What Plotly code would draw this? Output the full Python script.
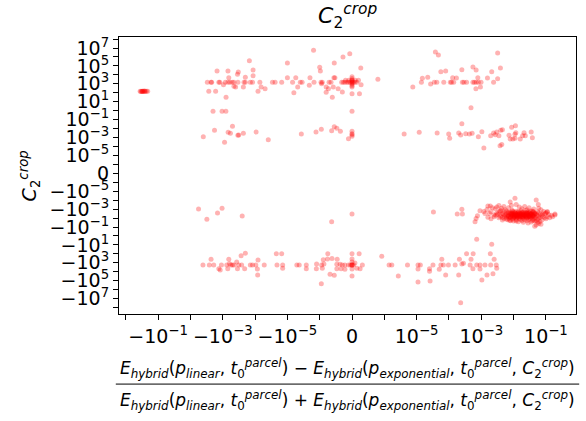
import numpy as np
import plotly.graph_objects as go

# Symmetric-log settings (linear band |v| <= LIN_THRESH spans one decade on each side)
LIN_THRESH = 1e-6


def symlog(vals):
    v = np.asarray(vals, dtype=float)
    a = np.abs(v)
    return np.where(a <= LIN_THRESH, v / LIN_THRESH,
                    np.sign(v) * (1.0 + np.log10(np.maximum(a, LIN_THRESH) / LIN_THRESH)))


# ---------------- data: relative difference (x) vs C2_crop (y) ----------------
far_left_x = [-0.36, -0.34, -0.32, -0.30, -0.29, -0.27, -0.25, -0.23, -0.21, -0.31, -0.26]
far_left_y = [150, 140, 146, 152, 143, 148, 141, 145, 144, 138, 155]

upper_x = [
    -1.5e-4, -1.5e-3, -6.9e-4, -3.3e-4, -3.5e-4, -1.15e-4, -6.5e-4, -2e-4, -1.15e-4,
    -3.0e-3, -2.3e-3, -2.2e-3, -1.32e-3, -1.23e-3, -8.3e-4, -6.9e-4, -6e-4, -5.1e-4,
    -4.5e-4, -3.4e-4, -2.2e-4, -2e-4, -1.4e-4, -1.2e-4,
    -9.5e-4, -4.5e-4, -4e-4, -2.3e-4, -2.7e-3, -1.66e-3, -8.1e-5, -7.9e-4,
    -1.55e-6, -7e-8, -2.8e-7, -1.0e-5, -5.5e-7, -1.0e-6, -9.8e-7, 2.7e-7,
    -7.1e-5, -2.9e-5, -2.4e-5, -1.5e-5, -6.9e-6, -4.0e-6, -3.5e-6, -1.5e-6, -9.6e-7,
    -9.2e-7, -7.1e-7, -6.5e-7, -3.2e-7, -2.7e-7, -2.2e-7, -1.6e-7, -1.1e-7, -6e-8,
    0.0, 4e-8, 9e-8, 1.5e-7,
    -1e-5, -5.5e-6, -2e-6, -5.6e-7, -5.3e-7, 8e-7,
    0.0, 0.0, 0.0, 0.0, 0.0, 0.0, 0.0, 0.0, 0.0, 0.0, 0.0,
    -2e-7, -1e-7, 1e-7, 2e-7,
    -6.5e-5, -4.9e-5, -4.8e-6, -6.3e-6, -2.1e-6, -9.4e-7, -8e-7, -7.3e-7, -8e-7,
    -5.8e-7, -4.3e-7, -6.1e-7, -3e-7, 2.3e-7, 2.8e-7,
    3.8e-5, 4.7e-5, 3.2e-3, 5.6e-5, 7.9e-5, 2.5e-4, 5.5e-4, 6.9e-4, 2.1e-3, 3.9e-3,
    1.5e-5, 2.2e-5, 1.3e-4, 1.7e-4, 7.8e-4, 1.55e-3, 3.2e-3,
    1.4e-5, 3.5e-5, 4.2e-5, 6.9e-5, 1.1e-4, 1.2e-4, 1.4e-4, 2.6e-4, 2.9e-4, 3.5e-4,
    5.5e-4, 6.1e-4, 7.0e-4, 8.1e-4, 9.8e-4, 2.4e-3,
    2.7e-5, 7.6e-6, 6.8e-4, 9.4e-4, 4.8e-4,
]
upper_y = [
    3.8e5, 2.7e4, 2.7e4, 2.1e4, 1.15e4, 3.5e4, 4.8e3, 5.4e3, 8e3,
    1.5e3, 1.5e3, 1.5e3, 1.5e3, 1.5e3, 1.5e3, 1.5e3, 1.5e3, 1.5e3,
    1.5e3, 1.5e3, 1.5e3, 1.5e3, 1.5e3, 1.5e3,
    790, 525, 440, 440, 145, 145, 145, 31,
    5.5e6, 2.3e6, 1.0e6, 2.1e5, 2.1e5, 6.9e4, 2.7e4, 5.8e4,
    1.5e3, 1.5e3, 1.5e3, 1.5e3, 1.5e3, 1.5e3, 1.5e3, 1.5e3, 1.5e3,
    1.5e3, 1.5e3, 1.5e3, 1.5e3, 1.5e3, 1.5e3, 1.5e3, 1.5e3, 1.5e3,
    1.5e3, 1.5e3, 1.5e3, 1.5e3,
    4.8e3, 4.8e3, 4.8e3, 4.8e3, 4.8e3, 3.2e3,
    6e3, 4e3, 2.5e3, 2.5e3, 1.8e3, 1.2e3, 900, 600, 440, 78, 0.85,
    2.5e3, 2.5e3, 2.5e3, 2.5e3,
    440, 280, 440, 100, 680, 1000, 440, 280, 112,
    440, 280, 31, 120, 78, 790,
    3.6e6, 1.7e6, 2.8e6, 2.2e4, 2.7e4, 3.8e4, 7.6e4, 3.5e4, 2.2e4, 5.8e4,
    4.1e3, 5.4e3, 4.8e3, 4.5e3, 4.8e3, 4.5e3, 3.7e3,
    1.5e3, 1.5e3, 1.5e3, 1.5e3, 1.5e3, 1.5e3, 1.5e3, 1.5e3, 1.5e3, 1.5e3,
    1.5e3, 1.5e3, 1.5e3, 1.5e3, 1.5e3, 1.5e3,
    950, 440, 280, 440, 2.1,
]

small_pos_x = [
    -2e-3, -1.05e-3, -8e-4, -5e-4, -1.8e-3, -6.8e-4, -5.8e-4, -3.2e-4, -3.4e-4, -2.3e-4,
    -9.3e-5, -4e-3, -8.8e-4,
    -3.9e-5, -3.7e-6, -1.3e-6, -9.5e-7, -6.3e-7, -5.5e-7, -4.7e-7, -3.6e-7, 4.1e-6,
    0.0, 0.0, 0.0, 0.0, -1.1e-7,
    2.5e-4, 1.2e-5, 4.3e-5, 9.8e-5, 1.05e-4, 2e-4, 2.3e-4, 3.3e-4, 4.3e-4, 5.2e-4,
    8.1e-4, 1.04e-3, 1.2e-3, 1.95e-3, 2.4e-3, 2.7e-3, 3e-3, 3.5e-3, 4e-3, 4.5e-3,
    4.3e-3, 3.8e-3, 7.2e-3, 7.8e-3, 9.5e-3, 0.011, 8.7e-3, 0.0114, 0.0117, 0.011,
    0.016, 0.019, 0.021, 0.023, 0.035, 0.038,
]
small_pos_y = [
    0.85, 0.85, 0.85, 0.018, 0.0063, 0.0038, 0.003, 0.0019, 0.0018, 0.003,
    0.0041, 0.0012, 0.00029,
    0.00056, 0.0025, 0.0041, 0.0083, 0.0058, 0.016, 0.011, 0.0049, 0.0025,
    0.0049, 0.0026, 0.00135, 0.002, 0.00074,
    0.035, 0.0038, 0.0032, 0.0025, 0.00081, 0.0032, 0.0019, 0.0026, 0.0025, 0.003,
    0.0012, 0.0045, 6.7e-5, 0.0016, 0.0032, 0.002, 0.0041, 0.0016, 0.0063, 0.0074,
    0.00017, 0.00012, 0.0018, 0.00068, 0.00068, 0.00081, 0.014, 0.021, 0.0035, 0.0023,
    0.00068, 0.0016, 0.0035, 0.0016, 0.0041, 0.00095,
]

small_neg_x = [
    -5.6e-3, -3.1e-3, -1.45e-3, -1.05e-3, -2.5e-4, 0.0, -6.3e-7,
    3.3e-5, 1.8e-4, 2.5e-4, 2.6e-4, 6.4e-4, 6.9e-4, 7.6e-4, 9.1e-4, 1.3e-3,
    7.2e-4, 2.1e-3,
]
small_neg_y = [
    -9.8e-4, -0.014, -2.7e-3, -8.1e-4, -5.9e-3, -3.5e-3, -0.026,
    -2.1e-3, -3.5e-3, -1.05e-3, -3.5e-3, -0.026, -0.011, -5.5e-3, -1.5e-3, -3e-3,
    -2.4, -8.6,
]

cluster_x = [
    0.004, 0.006, 0.009, 0.012, 0.017, 0.024, 0.033,
    0.0035, 0.005, 0.007, 0.010, 0.014, 0.020, 0.028, 0.040, 0.055,
    0.0030, 0.0045, 0.0065, 0.0085, 0.011, 0.015, 0.019, 0.025, 0.032, 0.045, 0.060,
    0.0032, 0.0048, 0.0060, 0.0078, 0.0095, 0.012, 0.016, 0.021, 0.027, 0.036, 0.050, 0.068,
    0.0028, 0.0040, 0.0055, 0.0070, 0.0090, 0.011, 0.013, 0.017, 0.022, 0.029, 0.038, 0.052, 0.075,
    0.0038, 0.0052, 0.0068, 0.0088, 0.0105, 0.0125, 0.015, 0.019, 0.024, 0.031, 0.042, 0.058, 0.080,
    0.0045, 0.0060, 0.0080, 0.010, 0.013, 0.016, 0.021, 0.027, 0.035, 0.047, 0.065,
    0.0050, 0.0072, 0.0095, 0.012, 0.015, 0.019, 0.025, 0.033, 0.044, 0.060,
    0.0065, 0.0090, 0.012, 0.016, 0.022, 0.030, 0.040, 0.055,
    0.008, 0.012, 0.018, 0.026, 0.038, 0.050,
    0.008, 0.011, 0.014, 0.018, 0.023, 0.030, 0.040, 0.009, 0.013, 0.017, 0.022, 0.028,
    0.036, 0.046, 0.010, 0.015, 0.020, 0.026, 0.034, 0.012, 0.016, 0.021, 0.029, 0.039,
    0.0075, 0.0105, 0.0135, 0.019, 0.025, 0.032,
    0.007, 0.0095, 0.012, 0.0155, 0.020, 0.026, 0.034, 0.044, 0.0085, 0.011,
    0.014, 0.018, 0.024, 0.031, 0.041, 0.0065, 0.009, 0.0115, 0.015, 0.0195,
    0.025, 0.033, 0.043, 0.008, 0.0105, 0.0135, 0.0175, 0.023, 0.030, 0.039,
    0.0012, 0.0015, 0.0018, 0.0022, 0.0025, 0.0020, 0.0027, 0.0030, 0.0035, 0.0042,
    0.0050, 0.0055, 0.0070, 0.0085, 0.011, 0.012, 0.015, 0.018, 0.022, 0.030,
    0.042, 0.060, 0.070, 0.085, 0.10, 0.12, 0.15, 0.19, 0.11, 0.09,
    0.10, 0.075, 0.065, 0.055, 0.045, 0.035, 0.028, 0.020, 0.014, 0.010,
    0.0075, 0.0060, 0.0045, 0.0035, 0.0025, 0.0020, 0.0016, 0.060, 0.070, 0.13,
    0.16, 0.095, 0.080, 0.0038, 0.009, 0.026, 0.038, 0.11, 0.0078, 0.050,
    0.0016, 0.0019, 0.058, 0.19, 0.11, 0.05, 0.045,
]
cluster_y = [
    -0.0014, -0.0016, -0.0013, -0.0017, -0.0015, -0.0014, -0.0016,
    -0.0021, -0.0019, -0.0022, -0.0020, -0.0018, -0.0021, -0.0023, -0.0019, -0.0020,
    -0.0027, -0.0030, -0.0026, -0.0029, -0.0028, -0.0031, -0.0027, -0.0029, -0.0026, -0.0030, -0.0028,
    -0.0038, -0.0035, -0.0039, -0.0036, -0.0040, -0.0037, -0.0034, -0.0038, -0.0036, -0.0039, -0.0035, -0.0037,
    -0.0049, -0.0052, -0.0047, -0.0051, -0.0048, -0.0053, -0.0050, -0.0046, -0.0052, -0.0049, -0.0051, -0.0048, -0.0050,
    -0.0066, -0.0063, -0.0068, -0.0064, -0.0067, -0.0062, -0.0066, -0.0069, -0.0063, -0.0065, -0.0067, -0.0064, -0.0066,
    -0.0086, -0.0083, -0.0088, -0.0084, -0.0087, -0.0082, -0.0086, -0.0089, -0.0084, -0.0085, -0.0087,
    -0.011, -0.0105, -0.0115, -0.0108, -0.0112, -0.0104, -0.0113, -0.0109, -0.0111, -0.0106,
    -0.015, -0.0145, -0.0155, -0.0148, -0.0152, -0.0146, -0.0154, -0.0149,
    -0.020, -0.021, -0.019, -0.0205, -0.0195, -0.020,
    -0.0024, -0.0025, -0.0023, -0.0026, -0.0024, -0.0025, -0.0023, -0.0033, -0.0032, -0.0034, -0.0033, -0.0032,
    -0.0034, -0.0033, -0.0043, -0.0044, -0.0042, -0.0045, -0.0043, -0.0057, -0.0058, -0.0056, -0.0059, -0.0057,
    -0.0074, -0.0076, -0.0073, -0.0075, -0.0077, -0.0074,
    -0.0028, -0.0027, -0.0030, -0.0028, -0.0029, -0.0027, -0.0030, -0.0028, -0.0040, -0.0041,
    -0.0039, -0.0042, -0.0040, -0.0041, -0.0039, -0.0055, -0.0054, -0.0056, -0.0055, -0.0053,
    -0.0056, -0.0054, -0.0055, -0.0070, -0.0071, -0.0069, -0.0072, -0.0070, -0.0071, -0.0069,
    -0.0018, -0.0011, -0.0030, -0.0007, -0.0045, -0.0020, -0.0009, -0.0006, -0.0004, -0.0008,
    -0.0005, -0.0012, -0.0007, -0.0004, -0.00006, -0.0003, -0.0006, -0.0009, -0.0005, -0.0007,
    -0.0010, -0.0008, -0.0012, -0.0018, -0.0025, -0.0040, -0.0050, -0.0045, -0.0070, -0.0090,
    -0.012, -0.016, -0.025, -0.030, -0.022, -0.028, -0.035, -0.030, -0.026, -0.022,
    -0.018, -0.013, -0.016, -0.009, -0.007, -0.012, -0.008, -0.040, -0.050, -0.009,
    -0.007, -0.003, -0.0035, -0.0016, -0.0016, -0.0012, -0.0016, -0.0018, -0.00016, -0.000095,
    -0.00045, -0.00045, -0.0003, -0.0035, -0.0023, -0.06, -0.08,
]

neg_band_x = [
    -2.3e-3, -4.1e-3, -1.9e-3, -1.32e-3, -1.2e-3, -1.1e-3, -7e-4, -6.5e-4, -6.2e-4,
    -5.6e-4, -4.5e-4, -3.7e-4, -3.5e-4, -3.2e-4, -2.7e-4, -2e-4, -2.1e-4, -1.4e-4,
    -1.2e-4, -9.5e-5, -8.1e-5, -8.5e-5, -8.3e-5, -2.6e-3, -7.5e-4, -5e-4, -2.6e-4,
    -5.2e-5, -2.2e-5, -1.5e-5, -2.1e-5, -1.4e-5, -1.4e-5, -5.1e-6, -4.3e-6, -2.6e-6,
    -2.6e-6, -1.25e-6, -1.27e-6, -9.4e-7, -9.2e-7, -8.7e-7, -8.9e-7, -7.5e-7, -7.6e-7,
    -6.2e-7, -4.6e-7, -4.7e-7, -3.7e-7, -3e-7, -2.2e-7, -4.7e-7, -3.4e-7, -2.2e-7,
    0.0, 0.0, 0.0, 0.0, 0.0, 0.0, 0.0, 0.0, -1.1e-7, 9e-8, 2.2e-7, 1.5e-7, 2.5e-7,
    3.2e-7, -5e-8, 5e-8, -6.8e-7, -5.5e-7, -9.5e-7, 9.2e-7, 1.4e-6, 1.7e-6, 2.7e-6,
    5.2e-6, 1.1e-5, 1.3e-5, 1.1e-5, 1.1e-5, 2.5e-5, 2.5e-5, 3.2e-5, 2.6e-5, 5e-5,
    5.6e-5, 6e-5, 6.7e-5, 7.9e-5, 9.6e-5, 1.55e-4, 2.1e-4, 2.5e-4, 2e-4, 2.8e-4,
    3.5e-4, 5.6e-4, 4.8e-4, 4.5e-4, 5.5e-4, 7.2e-4, 9.1e-4, 9.1e-4, 1.04e-3, 1.3e-3,
    1.5e-3, 1.9e-3, 1.95e-3, 2.3e-3, 2.5e-3, 2.9e-3, 3e-3, 2.3e-4,
]
neg_band_y = [
    -410, -1780, -1780, -4600, -6300, -1780, -4600, -410, -1260,
    -1780, -1780, -810, -4600, -1780, -160, -87, -4600, -1780,
    -1780, -1780, -480, -4900, -2.3e4, -1780, -1780, -1780, -1780,
    -1780, -96, -96, -1780, -1780, -4100, -1780, -1780, -1780,
    -4600, -1350, -4600, -1780, -4100, -1350, -450, -96, -380,
    -320, -410, -1480, -1480, -1780, -1780, -4600, -4600, -5300,
    -96, -380, -810, -1780, -1780, -1780, -4900, -3e4, -1780, -1050, -96, -4100, -4600,
    -1780, -1780, -1780, -1.9e4, -2.5e4, -2.2e5, -190, -1780, -1780, -3e4,
    -1780, -1780, -1780, -4900, -1.4e5, -4600, -8900, -1780, -1.1e5, -5300,
    -1780, -410, -1780, -2.3e4, -1780, -1780, -410, -1350, -2.3e4, -1150,
    -96, -96, -410, -1780, -4600, -1780, -1780, -4900, -8.3e4, -1780,
    -2.3e4, -96, -1780, -1.7e4, -410, -1780, -4100, -2.9e7,
]

# labelled ticks (every second decade) and unlabelled decade ticks
x_tick_values = [-0.1, -1e-3, -1e-5, 0.0, 1e-5, 1e-3, 0.1]
x_tick_labels = ["−10<sup>−1</sup>", "−10<sup>−3</sup>", "−10<sup>−5</sup>", "0",
                 "10<sup>−5</sup>", "10<sup>−3</sup>", "10<sup>−1</sup>"]
x_plain_ticks = [-1.0, -0.01, -1e-4, -1e-6, 1e-6, 1e-4, 0.01]

y_tick_values = [-1e7, -1e5, -1e3, -10, -0.1, -1e-3, -1e-5, 0.0,
                 1e-5, 1e-3, 0.1, 10, 1e3, 1e5, 1e7]
y_tick_labels = ["−10<sup>7</sup>", "−10<sup>5</sup>", "−10<sup>3</sup>", "−10<sup>1</sup>",
                 "−10<sup>−1</sup>", "−10<sup>−3</sup>", "−10<sup>−5</sup>", "0",
                 "10<sup>−5</sup>", "10<sup>−3</sup>", "10<sup>−1</sup>", "10<sup>1</sup>",
                 "10<sup>3</sup>", "10<sup>5</sup>", "10<sup>7</sup>"]
y_plain_ticks = [-1e8, -1e6, -1e4, -1e2, -1, -0.01, -1e-4, -1e-6,
                 1e-6, 1e-4, 0.01, 1, 1e2, 1e4, 1e6, 1e8]

x_all = far_left_x + upper_x + small_pos_x + small_neg_x + cluster_x + neg_band_x
y_all = far_left_y + upper_y + small_pos_y + small_neg_y + cluster_y + neg_band_y

FONT = "DejaVu Sans"

fig = go.Figure()
fig.add_trace(go.Scatter(
    x=symlog(x_all), y=symlog(y_all), mode="markers",
    marker=dict(color="red", size=5, opacity=0.3, line=dict(width=0)),
    showlegend=False, hoverinfo="skip",
))

axis_common = dict(
    showgrid=False, zeroline=False, showline=True, mirror=True,
    linecolor="black", linewidth=1, ticks="outside", ticklen=5, tickwidth=1,
    tickcolor="black", tickfont=dict(family=FONT, size=19, color="black"),
)
fig.update_xaxes(range=[-7.21, 6.93], tickmode="array",
                 tickvals=symlog(x_tick_values).tolist(), ticktext=x_tick_labels,
                 minor=dict(tickmode="array", tickvals=symlog(x_plain_ticks).tolist(),
                            ticks="outside", ticklen=5, tickwidth=1, tickcolor="black",
                            showgrid=False),
                 **axis_common)
fig.update_yaxes(range=[-15.72, 15.23], tickmode="array",
                 tickvals=symlog(y_tick_values).tolist(), ticktext=y_tick_labels,
                 minor=dict(tickmode="array", tickvals=symlog(y_plain_ticks).tolist(),
                            ticks="outside", ticklen=5, tickwidth=1, tickcolor="black",
                            showgrid=False),
                 **axis_common)

c2 = "<i>C</i><sub>2</sub><sup><i>crop</i></sup>"
t0 = "<i>t</i><sub>0</sub><sup><i>parcel</i></sup>"
e_lin = f"<i>E</i><sub><i>hybrid</i></sub>(<i>p</i><sub><i>linear</i></sub>, {t0})"
e_exp = f"<i>E</i><sub><i>hybrid</i></sub>(<i>p</i><sub><i>exponential</i></sub>, {t0}, {c2})"

annotations = [
    dict(text=c2, x=0.5, y=1.075, xref="paper", yref="paper", showarrow=False,
         font=dict(family=FONT, size=22, color="black"), xanchor="center", yanchor="middle"),
    dict(text=c2, x=-0.195, y=0.5, xref="paper", yref="paper", showarrow=False, textangle=-90,
         font=dict(family=FONT, size=19, color="black"), xanchor="center", yanchor="middle"),
    dict(text=f"{e_lin} − {e_exp}", x=0.501, y=-0.195, xref="paper", yref="paper",
         showarrow=False, font=dict(family=FONT, size=17, color="black"),
         xanchor="center", yanchor="middle"),
    dict(text=f"{e_lin} + {e_exp}", x=0.501, y=-0.314, xref="paper", yref="paper",
         showarrow=False, font=dict(family=FONT, size=17, color="black"),
         xanchor="center", yanchor="middle"),
]

fig.update_layout(
    width=586, height=421,
    margin=dict(l=119, r=10, t=37, b=107),
    paper_bgcolor="white", plot_bgcolor="white",
    annotations=annotations,
    shapes=[dict(type="line", xref="paper", yref="paper", x0=-0.007, x1=1.007,
                 y0=-0.253, y1=-0.253, line=dict(color="black", width=1))],
)

fig.write_html("out.html")
